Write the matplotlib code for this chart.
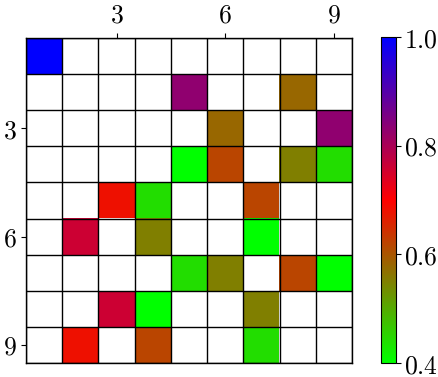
import numpy as np
import matplotlib
matplotlib.use("Agg")
import matplotlib.pyplot as plt
from matplotlib.colors import LinearSegmentedColormap

plt.rcParams['mathtext.fontset'] = 'cm'
plt.rcParams['font.size'] = 14

# 9x9 grid, 1-based (row, col) -> value; all other cells empty
rows = [1, 2, 2, 3, 3, 4, 4, 4, 4, 5, 5, 5, 6, 6, 6, 7, 7, 7, 7, 8, 8, 8, 9, 9, 9]
cols = [1, 5, 8, 6, 9, 5, 6, 8, 9, 3, 4, 7, 2, 4, 7, 5, 6, 8, 9, 3, 4, 7, 2, 4, 7]
vals = [1.0, 0.83, 0.58, 0.58, 0.83, 0.40, 0.62, 0.55, 0.44, 0.68, 0.44, 0.62,
        0.76, 0.55, 0.40, 0.44, 0.55, 0.62, 0.40, 0.76, 0.40, 0.55, 0.68, 0.62, 0.44]
n = 9
ticks = [3, 6, 9]
cbar_ticks = [0.4, 0.6, 0.8, 1.0]

grid = np.full((n, n), np.nan)
for r, c, v in zip(rows, cols, vals):
    grid[r - 1, c - 1] = v
grid = np.ma.masked_invalid(grid)

cmap = LinearSegmentedColormap.from_list('grb', ['#00ff00', '#ff0000', '#0000ff'])
cmap.set_bad('white')

fig = plt.figure(figsize=(4.39, 3.77), dpi=100)
ax = fig.add_axes([26 / 439, 14 / 377, 326 / 439, 325 / 377])
im = ax.imshow(grid, cmap=cmap, vmin=0.4, vmax=1.0, extent=(0.5, n + 0.5, n + 0.5, 0.5),
               interpolation='nearest', aspect='auto')

ax.set_xticks(np.arange(0.5, n + 1), minor=True)
ax.set_yticks(np.arange(0.5, n + 1), minor=True)
ax.grid(which='minor', color='black', linewidth=1)
ax.tick_params(which='minor', length=0)
ax.xaxis.tick_top()
ax.set_xticks(ticks)
ax.set_yticks(ticks)
ax.set_xticklabels([f'${t}$' for t in ticks])
ax.set_yticklabels([f'${t}$' for t in ticks])
ax.tick_params(which='major', length=3.5, labelsize=18.5, pad=3)
for s in ax.spines.values():
    s.set_linewidth(1)

cax = fig.add_axes([381 / 439, 14 / 377, 15 / 439, 326 / 377])
cb = fig.colorbar(im, cax=cax)
cb.set_ticks(cbar_ticks)
cb.set_ticklabels([f'${t:.1f}$' for t in cbar_ticks])
cax.tick_params(length=3.5, labelsize=18.5, pad=2)

fig.savefig('out.png', dpi=100)
